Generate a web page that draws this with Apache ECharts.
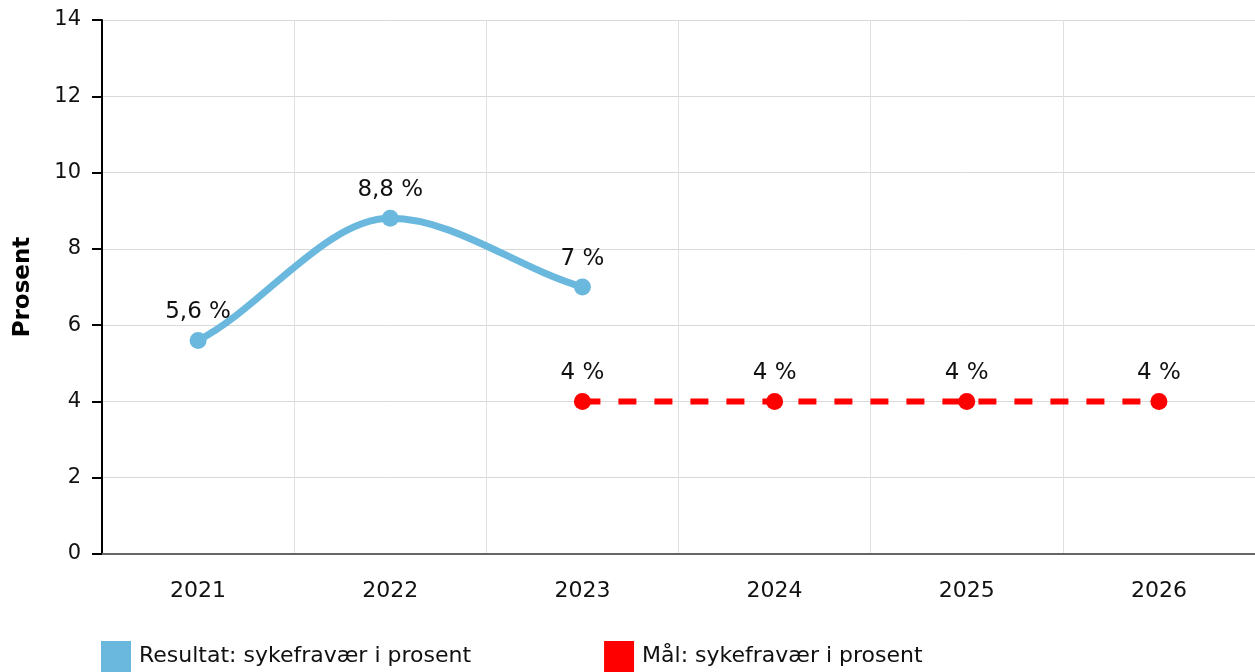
<!DOCTYPE html>
<html><head><meta charset="utf-8">
<script src="https://cdn.jsdelivr.net/npm/echarts@6/dist/echarts.min.js"></script>
<style>html,body{margin:0;padding:0;background:#fff}#c{width:1255px;height:672px}</style>
</head><body><div id="c"></div>
<script>
const categories = ['2021','2022','2023','2024','2025','2026'];
const resultat = [5.6, 8.8, 7, null, null, null];
const maal = [null, null, 4, 4, 4, 4];
const yTicks = {min: 0, max: 14, interval: 2};
const seriesNames = ['Resultat: sykefravær i prosent', 'Mål: sykefravær i prosent'];

const FONT = 'DejaVu Sans';
const BLUE = '#6ab8dd';
const RED = '#ff0000';
const fmt = p => String(p.value).replace('.', ',') + ' %';

// Monotone cubic curve through the data points (pixel coords from the axes)
function renderCurve(params, api) {
  if (params.dataIndex !== 0) return null;
  const pts = [];
  resultat.forEach((v, i) => { if (v != null) pts.push(api.coord([i, v])); });
  const n = pts.length;
  if (n < 2) return null;
  const dk = [], mk = [];
  for (let i = 0; i < n - 1; i++) dk.push((pts[i+1][1] - pts[i][1]) / (pts[i+1][0] - pts[i][0]));
  for (let i = 0; i < n; i++) {
    if (i === 0) mk.push(dk[0] * 0.8);
    else if (i === n - 1) mk.push(dk[n-2] * 0.8);
    else if (Math.sign(dk[i-1]) !== Math.sign(dk[i])) mk.push(0);
    else mk.push((dk[i-1] + dk[i]) / 2);
  }
  for (let i = 0; i < n - 1; i++) {
    if (dk[i] === 0) { mk[i] = 0; mk[i+1] = 0; continue; }
    const a = mk[i] / dk[i], b = mk[i+1] / dk[i];
    const s = a * a + b * b;
    if (s > 9) { const t = 3 / Math.sqrt(s); mk[i] = t * a * dk[i]; mk[i+1] = t * b * dk[i]; }
  }
  let d = 'M' + pts[0][0] + ' ' + pts[0][1];
  for (let i = 0; i < n - 1; i++) {
    const dx = (pts[i+1][0] - pts[i][0]) / 3;
    d += ' C' + (pts[i][0] + dx) + ' ' + (pts[i][1] + mk[i] * dx) + ' ' +
         (pts[i+1][0] - dx) + ' ' + (pts[i+1][1] - mk[i+1] * dx) + ' ' +
         pts[i+1][0] + ' ' + pts[i+1][1];
  }
  return {type: 'path', shape: {pathData: d}, style: {fill: 'none', stroke: BLUE, lineWidth: 7, lineCap: 'round'}};
}

const chart = echarts.init(document.getElementById('c'), null, {renderer: 'canvas'});
chart.setOption({
  animation: false,
  textStyle: {fontFamily: FONT},
  grid: {left: 102, right: 0, top: 20, bottom: 118, containLabel: false},
  legend: {
    top: 641, left: 101, padding: 0, itemWidth: 30, itemHeight: 31, itemGap: 133,
    icon: 'rect',
    textStyle: {fontFamily: FONT, fontSize: 22, color: '#111', padding: [0, 0, 0, 3]},
    data: seriesNames
  },
  xAxis: {
    type: 'category', data: categories, boundaryGap: true,
    axisLine: {lineStyle: {color: '#666', width: 2}},
    axisTick: {alignWithLabel: true, length: 8, lineStyle: {color: '#aaa', width: 2}},
    axisLabel: {fontFamily: FONT, fontSize: 22, color: '#111', margin: 26},
    splitLine: {show: true, lineStyle: {color: '#e0e0e0', width: 1}}
  },
  yAxis: {
    type: 'value', min: yTicks.min, max: yTicks.max, interval: yTicks.interval,
    name: 'Prosent', nameLocation: 'middle', nameGap: 67,
    nameTextStyle: {fontFamily: FONT, fontSize: 23, fontWeight: 'bold', color: '#000'},
    axisLine: {show: true, lineStyle: {color: '#000', width: 2}},
    axisTick: {show: true, length: 10, lineStyle: {color: '#000', width: 2}},
    axisLabel: {fontFamily: FONT, fontSize: 21, color: '#111', margin: 21},
    splitLine: {show: true, lineStyle: {color: '#d9d9d9', width: 1}}
  },
  series: [
    {
      name: 'kurve', type: 'custom', renderItem: renderCurve, z: 2,
      data: resultat.map((v, i) => [i, v]), silent: true
    },
    {
      name: seriesNames[0], type: 'line', data: resultat, z: 3,
      symbol: 'circle', symbolSize: 17,
      itemStyle: {color: BLUE},
      lineStyle: {color: BLUE, width: 0, opacity: 0},
      label: {show: true, position: 'top', distance: 8, formatter: fmt, fontFamily: FONT, fontSize: 23, color: '#111'}
    },
    {
      name: seriesNames[1], type: 'line', data: maal, z: 3,
      symbol: 'circle', symbolSize: 17,
      itemStyle: {color: RED},
      lineStyle: {color: RED, width: 6, type: [18, 18]},
      label: {show: true, position: 'top', distance: 8, formatter: fmt, fontFamily: FONT, fontSize: 23, color: '#111'}
    }
  ]
});
</script></body></html>
